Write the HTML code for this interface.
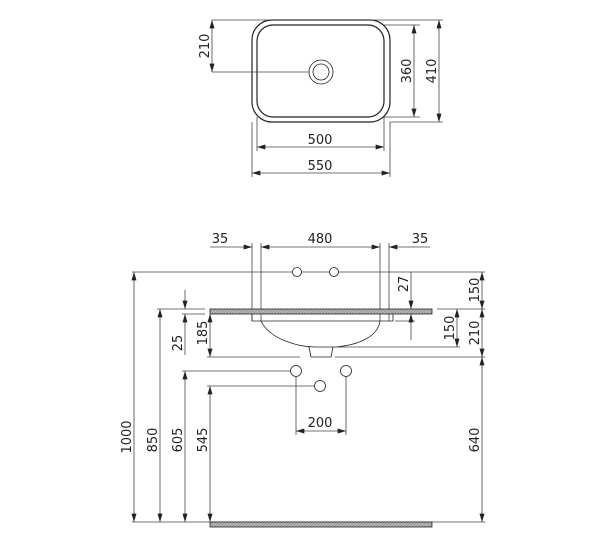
<!DOCTYPE html>
<html><head><style>body{margin:0;background:#fff}svg{display:block}text{font-family:"DejaVu Sans",sans-serif;font-size:13px;fill:#222}</style></head><body>
<svg width="608" height="543" viewBox="0 0 608 543" xmlns="http://www.w3.org/2000/svg">
<defs>
<marker id="a" viewBox="0 0 10 6" refX="10" refY="3" markerWidth="9" markerHeight="5" orient="auto-start-reverse" markerUnits="userSpaceOnUse"><path d="M0,0L10,3L0,6z" fill="#222"/></marker>
<pattern id="h" width="3" height="3" patternUnits="userSpaceOnUse"><rect width="3" height="3" fill="#bbb"/><path d="M0,3L3,0" stroke="#777" stroke-width="0.6"/></pattern>
</defs>
<g stroke="#444" stroke-width="0.8" fill="none">
<rect x="252" y="20" width="138" height="102" rx="20" stroke="#222" stroke-width="1.2"/>
<rect x="257" y="25" width="127" height="92" rx="16" stroke="#222" stroke-width="1.2"/>
<circle cx="321" cy="72" r="12" stroke="#222"/><circle cx="321" cy="72" r="8" stroke="#222"/>
<line x1="212" y1="20" x2="443" y2="20"/><line x1="212" y1="72" x2="309" y2="72"/>
<line x1="384" y1="25" x2="420" y2="25"/><line x1="384" y1="117" x2="420" y2="117"/><line x1="390" y1="122" x2="443" y2="122"/>
<line x1="252" y1="122" x2="252" y2="177"/><line x1="390" y1="122" x2="390" y2="177"/>
<line x1="257" y1="117" x2="257" y2="151"/><line x1="384" y1="117" x2="384" y2="151"/>
<line x1="212" y1="20" x2="212" y2="72" marker-start="url(#a)" marker-end="url(#a)"/>
<line x1="414" y1="25" x2="414" y2="117" marker-start="url(#a)" marker-end="url(#a)"/>
<line x1="439" y1="20" x2="439" y2="122" marker-start="url(#a)" marker-end="url(#a)"/>
<line x1="257" y1="147" x2="384" y2="147" marker-start="url(#a)" marker-end="url(#a)"/>
<line x1="252" y1="173" x2="390" y2="173" marker-start="url(#a)" marker-end="url(#a)"/>
<line x1="252" y1="243" x2="252" y2="321"/><line x1="261" y1="243" x2="261" y2="321"/>
<line x1="380" y1="243" x2="380" y2="321"/><line x1="389" y1="243" x2="389" y2="321"/>
<line x1="210" y1="247" x2="252" y2="247" marker-end="url(#a)"/>
<line x1="261" y1="247" x2="380" y2="247" marker-start="url(#a)" marker-end="url(#a)"/>
<line x1="430" y1="247" x2="389" y2="247" marker-end="url(#a)"/>
<line x1="132" y1="272" x2="485" y2="272"/>
<circle cx="297" cy="272" r="4.5" fill="#fff" stroke="#222"/><circle cx="334" cy="272" r="4.5" fill="#fff" stroke="#222"/>
<rect x="210" y="309" width="222" height="5" fill="url(#h)" stroke="#222"/>
<path d="M252,314V321H393V314" stroke="#222"/>
<path d="M261,321C270,340 300,347 315,347L335,347C360,345 378,336 380,321" stroke="#222"/>
<path d="M309,347L311,357H331L333,347" stroke="#222"/>
<line x1="207" y1="357" x2="300" y2="357"/><line x1="335" y1="357" x2="485" y2="357"/>
<line x1="334" y1="347" x2="460" y2="347"/>
<line x1="157" y1="309" x2="205" y2="309"/><line x1="182" y1="314" x2="205" y2="314"/>
<line x1="437" y1="309" x2="485" y2="309"/><line x1="395" y1="321" x2="415" y2="321"/>
<circle cx="296" cy="371" r="5.5" fill="#fff" stroke="#222"/><circle cx="346" cy="371" r="5.5" fill="#fff" stroke="#222"/><circle cx="320" cy="386" r="5.5" fill="#fff" stroke="#222"/>
<line x1="182" y1="371" x2="290" y2="371"/><line x1="207" y1="386" x2="314" y2="386"/>
<line x1="296" y1="377" x2="296" y2="435"/><line x1="346" y1="377" x2="346" y2="435"/>
<line x1="296" y1="431" x2="346" y2="431" marker-start="url(#a)" marker-end="url(#a)"/>
<line x1="134" y1="522" x2="134" y2="272" marker-start="url(#a)" marker-end="url(#a)"/>
<line x1="160" y1="522" x2="160" y2="309" marker-start="url(#a)" marker-end="url(#a)"/>
<line x1="185" y1="290" x2="185" y2="309" marker-end="url(#a)"/>
<line x1="185" y1="355" x2="185" y2="314" marker-end="url(#a)"/>
<line x1="210" y1="314" x2="210" y2="357" marker-start="url(#a)" marker-end="url(#a)"/>
<line x1="185" y1="522" x2="185" y2="371" marker-start="url(#a)" marker-end="url(#a)"/>
<line x1="210" y1="522" x2="210" y2="386" marker-start="url(#a)" marker-end="url(#a)"/>
<line x1="411" y1="272" x2="411" y2="309" marker-end="url(#a)"/>
<line x1="411" y1="340" x2="411" y2="314" marker-end="url(#a)"/>
<line x1="482" y1="272" x2="482" y2="309" marker-start="url(#a)" marker-end="url(#a)"/>
<line x1="457" y1="309" x2="457" y2="347" marker-start="url(#a)" marker-end="url(#a)"/>
<line x1="482" y1="309" x2="482" y2="357" marker-start="url(#a)" marker-end="url(#a)"/>
<line x1="482" y1="357" x2="482" y2="522" marker-start="url(#a)" marker-end="url(#a)"/>
<line x1="132" y1="522" x2="485" y2="522"/>
<rect x="210" y="522" width="222" height="5" fill="url(#h)" stroke="#222"/>
</g>
<g text-anchor="middle">
<text x="205" y="46" transform="rotate(-90 205 46)" dy="4">210</text>
<text x="407" y="71" transform="rotate(-90 407 71)" dy="4">360</text>
<text x="432" y="71" transform="rotate(-90 432 71)" dy="4">410</text>
<text x="320" y="144">500</text>
<text x="320" y="170">550</text>
<text x="220" y="243">35</text><text x="320" y="243">480</text><text x="420" y="243">35</text>
<text x="320" y="427">200</text>
<text x="127" y="437" transform="rotate(-90 127 437)" dy="4">1000</text>
<text x="153" y="440" transform="rotate(-90 153 440)" dy="4">850</text>
<text x="178" y="440" transform="rotate(-90 178 440)" dy="4">605</text>
<text x="203" y="440" transform="rotate(-90 203 440)" dy="4">545</text>
<text x="475" y="440" transform="rotate(-90 475 440)" dy="4">640</text>
<text x="178" y="343" transform="rotate(-90 178 343)" dy="4">25</text>
<text x="203" y="333" transform="rotate(-90 203 333)" dy="4">185</text>
<text x="404" y="284" transform="rotate(-90 404 284)" dy="4">27</text>
<text x="475" y="290" transform="rotate(-90 475 290)" dy="4">150</text>
<text x="450" y="328" transform="rotate(-90 450 328)" dy="4">150</text>
<text x="475" y="333" transform="rotate(-90 475 333)" dy="4">210</text>
</g>
</svg>
</body></html>
